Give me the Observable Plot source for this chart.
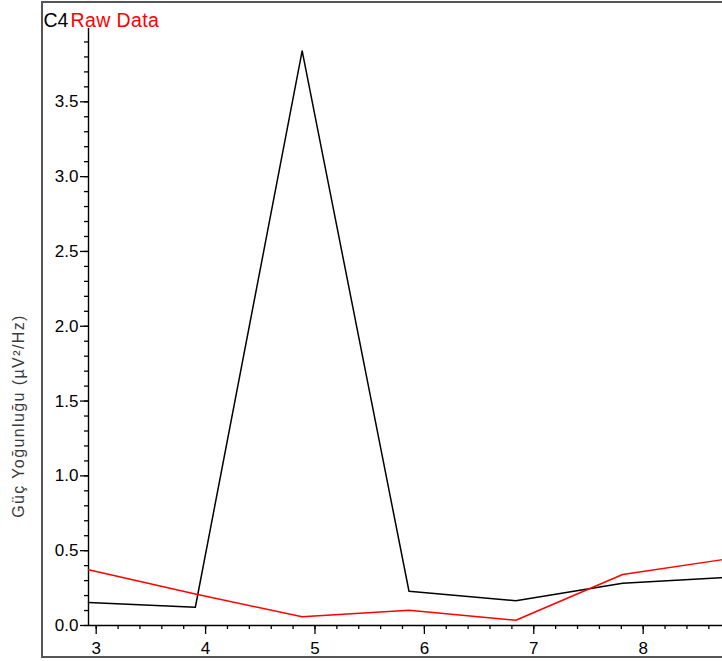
<!DOCTYPE html>
<html>
<head>
<meta charset="utf-8">
<script src="https://cdn.jsdelivr.net/npm/d3@7"></script>
<script src="https://cdn.jsdelivr.net/npm/@observablehq/plot@0.6"></script>
<style>
  html, body { margin: 0; padding: 0; background: #fff; overflow: hidden; width: 722px; height: 661px; }
  #frame { position: absolute; left: 41px; top: 1px; width: 760px; height: 657px; box-sizing: border-box; border: 2px solid #555; }
  #chart { position: absolute; left: 0; top: 0; width: 760px; }
  #chart svg { max-width: none !important; font-family: "Liberation Sans", Arial, sans-serif; }
  #chart .ylab text { letter-spacing: 1.4px; }
  #chart .ttl text { letter-spacing: 0.4px; }
</style>
</head>
<body>
<div id="frame"></div>
<div id="chart"></div>
<script>
// Frequencies (Hz) — bin spacing of the spectrum
const freqs = [2.9297, 3.9063, 4.8828, 5.8594, 6.8359, 7.8125, 8.7891];
// Series values (µV²/Hz)
const c4Values = [0.154, 0.122, 3.84, 0.229, 0.165, 0.283, 0.322];
const rawValues = [0.372, 0.21, 0.058, 0.102, 0.035, 0.341, 0.447];
// Tick labels
const xMajor = [3, 4, 5, 6, 7, 8];
const yMajor = [0, 0.5, 1.0, 1.5, 2.0, 2.5, 3.0, 3.5];
const titleLeft = "C4";
const titleRight = "Raw Data";
const yLabel = "Güç Yoğunluğu (µV²/Hz)";

const xDomain = [freqs[0], freqs[freqs.length - 1]];
const yDomain = [0, 3.99];

const xMinor = d3.range(30, 88, 2).map(v => v / 10).filter(v => v >= xDomain[0] && v <= xDomain[1]);
const yMinor = d3.range(0, 40, 1).map(v => v / 10);

const c4 = freqs.map((f, i) => ({f, v: c4Values[i]}));
const raw = freqs.map((f, i) => ({f, v: rawValues[i]}));

const chart = Plot.plot({
  width: 760,
  height: 661,
  marginLeft: 88,
  marginRight: 31,
  marginTop: 28,
  marginBottom: 36,
  style: {fontFamily: "'Liberation Sans', Arial, sans-serif", fontSize: "17px", color: "#000", background: "transparent", overflow: "visible", maxWidth: "none"},
  x: {domain: xDomain},
  y: {domain: yDomain},
  marks: [
    Plot.axisX({ticks: xMinor, tickSize: 4, text: null, label: null, strokeWidth: 1.3, strokeOpacity: 1}),
    Plot.axisX({ticks: xMajor, tickSize: 9, tickPadding: 7, tickFormat: d => d3.format("d")(d), label: null, fontSize: 17, strokeWidth: 1.3, strokeOpacity: 1}),
    Plot.axisY({ticks: yMinor, tickSize: 4, text: null, label: null, strokeWidth: 1.3, strokeOpacity: 1}),
    Plot.axisY({ticks: yMajor, tickSize: 8, tickPadding: 2, tickFormat: d3.format(".1f"), label: null, fontSize: 17, strokeWidth: 1.3, strokeOpacity: 1}),
    Plot.ruleX([xDomain[0]], {stroke: "#000", strokeWidth: 1.4}),
    Plot.ruleY([0], {stroke: "#000", strokeWidth: 1.4}),
    Plot.line(c4, {x: "f", y: "v", stroke: "#000", strokeWidth: 1.5}),
    Plot.line(raw, {x: "f", y: "v", stroke: "#ff0000", strokeWidth: 1.5}),
    Plot.text([titleLeft], {x: xDomain[0], y: yDomain[1], text: d => d, dx: -45, dy: -2, textAnchor: "start", lineAnchor: "bottom", fontSize: 19.5, fill: "#000"}),
    Plot.text([titleRight], {x: xDomain[0], y: yDomain[1], text: d => d, dx: -18, dy: -2, textAnchor: "start", lineAnchor: "bottom", fontSize: 19.5, fill: "#ff0000", className: "ttl"}),
    Plot.text([yLabel], {x: xDomain[0], y: 1.4, text: d => d, rotate: -90, dx: -70, textAnchor: "middle", lineAnchor: "middle", fontSize: 16, fill: "#3a3a3a", className: "ylab"})
  ]
});
document.getElementById("chart").append(chart);
</script>
</body>
</html>
